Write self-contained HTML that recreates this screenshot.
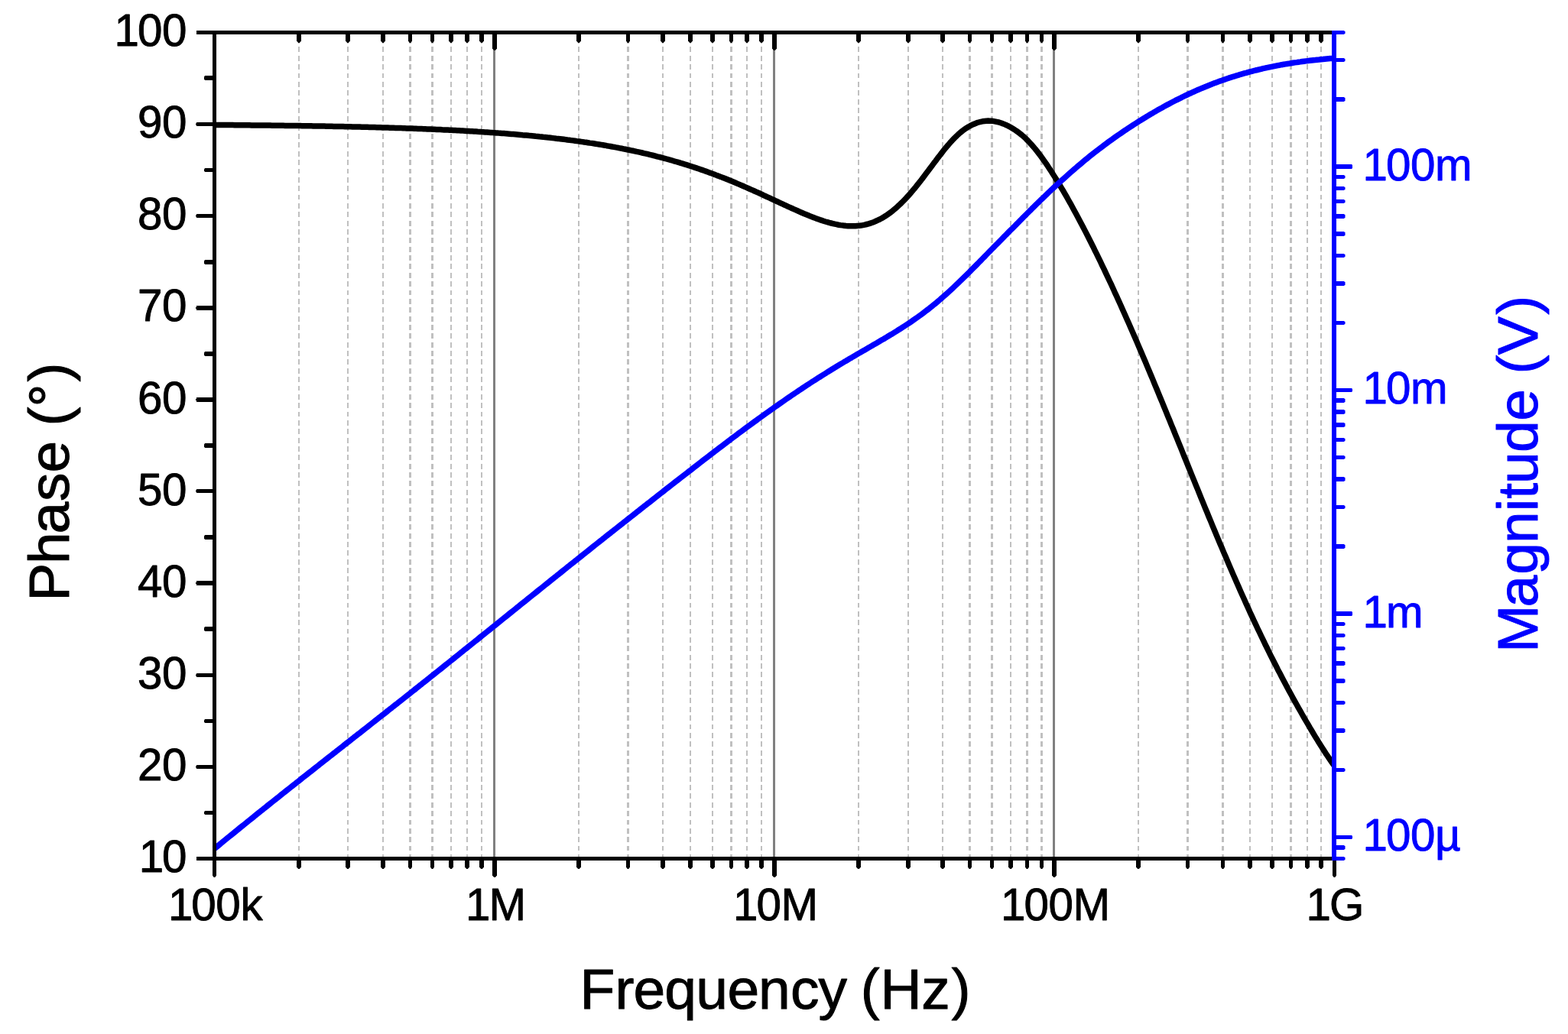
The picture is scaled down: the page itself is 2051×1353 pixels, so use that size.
<!DOCTYPE html>
<html lang="en">
<head>
<meta charset="utf-8">
<title>Phase and Magnitude vs Frequency</title>
<style>
html,body{margin:0;padding:0;background:#fff;}
body{width:2051px;height:1353px;overflow:hidden;}
svg{display:block;}
</style>
</head>
<body>
<svg width="2051" height="1353" viewBox="0 0 2051 1353" role="img" aria-label="Bode plot: phase and magnitude versus frequency">
<rect width="2051" height="1353" fill="#fff"/>
<g shape-rendering="crispEdges" fill="none">
<line x1="391.0" y1="50.1" x2="391.0" y2="1121" stroke="#c0c0c0" stroke-width="2" stroke-dasharray="6.9 4.46"/>
<line x1="455.0" y1="50.1" x2="455.0" y2="1121" stroke="#c0c0c0" stroke-width="2" stroke-dasharray="6.9 4.46"/>
<line x1="501.0" y1="50.1" x2="501.0" y2="1121" stroke="#c0c0c0" stroke-width="2" stroke-dasharray="6.9 4.46"/>
<line x1="536.5" y1="50.1" x2="536.5" y2="1121" stroke="#c0c0c0" stroke-width="3" stroke-dasharray="6.9 4.46"/>
<line x1="565.5" y1="50.1" x2="565.5" y2="1121" stroke="#c0c0c0" stroke-width="3" stroke-dasharray="6.9 4.46"/>
<line x1="590.0" y1="50.1" x2="590.0" y2="1121" stroke="#c0c0c0" stroke-width="2" stroke-dasharray="6.9 4.46"/>
<line x1="611.0" y1="50.1" x2="611.0" y2="1121" stroke="#c0c0c0" stroke-width="2" stroke-dasharray="6.9 4.46"/>
<line x1="630.0" y1="50.1" x2="630.0" y2="1121" stroke="#c0c0c0" stroke-width="2" stroke-dasharray="6.9 4.46"/>
<line x1="757.0" y1="50.1" x2="757.0" y2="1121" stroke="#c0c0c0" stroke-width="2" stroke-dasharray="6.9 4.46"/>
<line x1="821.5" y1="50.1" x2="821.5" y2="1121" stroke="#c0c0c0" stroke-width="3" stroke-dasharray="6.9 4.46"/>
<line x1="867.0" y1="50.1" x2="867.0" y2="1121" stroke="#c0c0c0" stroke-width="2" stroke-dasharray="6.9 4.46"/>
<line x1="903.0" y1="50.1" x2="903.0" y2="1121" stroke="#c0c0c0" stroke-width="2" stroke-dasharray="6.9 4.46"/>
<line x1="932.0" y1="50.1" x2="932.0" y2="1121" stroke="#c0c0c0" stroke-width="2" stroke-dasharray="6.9 4.46"/>
<line x1="956.5" y1="50.1" x2="956.5" y2="1121" stroke="#c0c0c0" stroke-width="3" stroke-dasharray="6.9 4.46"/>
<line x1="977.0" y1="50.1" x2="977.0" y2="1121" stroke="#c0c0c0" stroke-width="2" stroke-dasharray="6.9 4.46"/>
<line x1="996.0" y1="50.1" x2="996.0" y2="1121" stroke="#c0c0c0" stroke-width="2" stroke-dasharray="6.9 4.46"/>
<line x1="1123.0" y1="50.1" x2="1123.0" y2="1121" stroke="#c0c0c0" stroke-width="2" stroke-dasharray="6.9 4.46"/>
<line x1="1188.0" y1="50.1" x2="1188.0" y2="1121" stroke="#c0c0c0" stroke-width="2" stroke-dasharray="6.9 4.46"/>
<line x1="1233.0" y1="50.1" x2="1233.0" y2="1121" stroke="#c0c0c0" stroke-width="2" stroke-dasharray="6.9 4.46"/>
<line x1="1268.5" y1="50.1" x2="1268.5" y2="1121" stroke="#c0c0c0" stroke-width="3" stroke-dasharray="6.9 4.46"/>
<line x1="1297.5" y1="50.1" x2="1297.5" y2="1121" stroke="#c0c0c0" stroke-width="3" stroke-dasharray="6.9 4.46"/>
<line x1="1322.0" y1="50.1" x2="1322.0" y2="1121" stroke="#c0c0c0" stroke-width="2" stroke-dasharray="6.9 4.46"/>
<line x1="1343.5" y1="50.1" x2="1343.5" y2="1121" stroke="#c0c0c0" stroke-width="3" stroke-dasharray="6.9 4.46"/>
<line x1="1362.5" y1="50.1" x2="1362.5" y2="1121" stroke="#c0c0c0" stroke-width="3" stroke-dasharray="6.9 4.46"/>
<line x1="1489.0" y1="50.1" x2="1489.0" y2="1121" stroke="#c0c0c0" stroke-width="2" stroke-dasharray="6.9 4.46"/>
<line x1="1553.5" y1="50.1" x2="1553.5" y2="1121" stroke="#c0c0c0" stroke-width="3" stroke-dasharray="6.9 4.46"/>
<line x1="1599.5" y1="50.1" x2="1599.5" y2="1121" stroke="#c0c0c0" stroke-width="3" stroke-dasharray="6.9 4.46"/>
<line x1="1635.0" y1="50.1" x2="1635.0" y2="1121" stroke="#c0c0c0" stroke-width="2" stroke-dasharray="6.9 4.46"/>
<line x1="1664.0" y1="50.1" x2="1664.0" y2="1121" stroke="#c0c0c0" stroke-width="2" stroke-dasharray="6.9 4.46"/>
<line x1="1688.5" y1="50.1" x2="1688.5" y2="1121" stroke="#c0c0c0" stroke-width="3" stroke-dasharray="6.9 4.46"/>
<line x1="1710.0" y1="50.1" x2="1710.0" y2="1121" stroke="#c0c0c0" stroke-width="2" stroke-dasharray="6.9 4.46"/>
<line x1="1728.0" y1="50.1" x2="1728.0" y2="1121" stroke="#c0c0c0" stroke-width="2" stroke-dasharray="6.9 4.46"/>
<rect x="645" y="45" width="3" height="1076" fill="#808080"/>
<rect x="1011" y="45" width="3" height="1076" fill="#808080"/>
<rect x="1377" y="45" width="3" height="1076" fill="#808080"/>
</g>
<g fill="none" stroke-linejoin="round" stroke-linecap="butt">
<path d="M280.0,163.4 L282.4,163.5 L284.9,163.5 L287.3,163.5 L289.8,163.5 L292.2,163.5 L294.7,163.6 L297.1,163.6 L299.6,163.6 L302.0,163.6 L304.5,163.6 L306.9,163.7 L309.4,163.7 L311.8,163.7 L314.2,163.7 L316.7,163.7 L319.1,163.8 L321.6,163.8 L324.0,163.8 L326.5,163.8 L328.9,163.9 L331.4,163.9 L333.8,163.9 L336.2,163.9 L338.7,164.0 L341.1,164.0 L343.6,164.0 L346.0,164.0 L348.5,164.1 L350.9,164.1 L353.4,164.1 L355.8,164.2 L358.3,164.2 L360.7,164.2 L363.2,164.2 L365.6,164.3 L368.1,164.3 L370.5,164.3 L372.9,164.4 L375.4,164.4 L377.8,164.4 L380.3,164.4 L382.7,164.5 L385.2,164.5 L387.6,164.6 L390.1,164.6 L392.5,164.6 L394.9,164.7 L397.4,164.7 L399.8,164.7 L402.3,164.8 L404.7,164.8 L407.2,164.8 L409.6,164.9 L412.1,164.9 L414.5,165.0 L417.0,165.0 L419.4,165.1 L421.9,165.1 L424.3,165.1 L426.7,165.2 L429.2,165.2 L431.6,165.3 L434.1,165.3 L436.5,165.4 L439.0,165.4 L441.4,165.5 L443.9,165.5 L446.3,165.6 L448.8,165.6 L451.2,165.7 L453.6,165.7 L456.1,165.8 L458.5,165.8 L461.0,165.9 L463.4,165.9 L465.9,166.0 L468.3,166.0 L470.8,166.1 L473.2,166.2 L475.7,166.2 L478.1,166.3 L480.6,166.3 L483.0,166.4 L485.4,166.5 L487.9,166.5 L490.3,166.6 L492.8,166.7 L495.2,166.7 L497.7,166.8 L500.1,166.9 L502.6,166.9 L505.0,167.0 L507.4,167.1 L509.9,167.2 L512.4,167.2 L514.8,167.3 L517.2,167.4 L519.7,167.5 L522.1,167.5 L524.6,167.6 L527.0,167.7 L529.5,167.8 L531.9,167.9 L534.4,168.0 L536.8,168.1 L539.2,168.1 L541.7,168.2 L544.1,168.3 L546.6,168.4 L549.0,168.5 L551.5,168.6 L553.9,168.7 L556.4,168.8 L558.8,168.9 L561.3,169.0 L563.7,169.1 L566.1,169.2 L568.6,169.3 L571.0,169.4 L573.5,169.5 L575.9,169.6 L578.4,169.8 L580.8,169.9 L583.3,170.0 L585.7,170.1 L588.2,170.2 L590.6,170.3 L593.1,170.5 L595.5,170.6 L598.0,170.7 L600.4,170.8 L602.8,171.0 L605.3,171.1 L607.7,171.2 L610.2,171.4 L612.6,171.5 L615.1,171.7 L617.5,171.8 L620.0,172.0 L622.4,172.1 L624.9,172.3 L627.3,172.4 L629.7,172.6 L632.2,172.7 L634.6,172.9 L637.1,173.0 L639.5,173.2 L642.0,173.4 L644.4,173.6 L646.9,173.7 L649.3,173.9 L651.8,174.1 L654.2,174.2 L656.6,174.4 L659.1,174.6 L661.5,174.8 L664.0,175.0 L666.4,175.2 L668.9,175.4 L671.3,175.6 L673.8,175.8 L676.2,176.0 L678.7,176.2 L681.1,176.4 L683.5,176.7 L686.0,176.9 L688.4,177.1 L690.9,177.3 L693.3,177.6 L695.8,177.8 L698.2,178.0 L700.7,178.3 L703.1,178.5 L705.6,178.8 L708.0,179.0 L710.5,179.3 L712.9,179.5 L715.3,179.8 L717.8,180.1 L720.2,180.3 L722.7,180.6 L725.1,180.9 L727.6,181.2 L730.0,181.4 L732.5,181.7 L734.9,182.0 L737.4,182.3 L739.8,182.6 L742.2,183.0 L744.7,183.3 L747.1,183.6 L749.6,183.9 L752.0,184.2 L754.5,184.6 L756.9,184.9 L759.4,185.3 L761.8,185.6 L764.3,186.0 L766.7,186.3 L769.1,186.7 L771.6,187.1 L774.0,187.4 L776.5,187.8 L778.9,188.2 L781.4,188.6 L783.8,189.0 L786.3,189.4 L788.7,189.8 L791.2,190.2 L793.6,190.7 L796.0,191.1 L798.5,191.5 L800.9,192.0 L803.4,192.4 L805.8,192.9 L808.3,193.3 L810.7,193.8 L813.2,194.3 L815.6,194.8 L818.1,195.3 L820.5,195.8 L823.0,196.3 L825.4,196.8 L827.9,197.3 L830.3,197.8 L832.7,198.4 L835.2,198.9 L837.6,199.4 L840.1,200.0 L842.5,200.6 L845.0,201.1 L847.4,201.7 L849.9,202.3 L852.3,202.9 L854.8,203.5 L857.2,204.1 L859.6,204.8 L862.1,205.4 L864.5,206.0 L867.0,206.7 L869.4,207.3 L871.9,208.0 L874.3,208.7 L876.8,209.3 L879.2,210.0 L881.6,210.8 L884.1,211.5 L886.5,212.2 L889.0,212.9 L891.4,213.7 L893.9,214.4 L896.3,215.2 L898.8,215.9 L901.2,216.7 L903.7,217.5 L906.1,218.3 L908.6,219.1 L911.0,219.9 L913.5,220.7 L915.9,221.6 L918.3,222.4 L920.8,223.3 L923.2,224.1 L925.7,225.0 L928.1,225.9 L930.6,226.8 L933.0,227.7 L935.5,228.6 L937.9,229.6 L940.4,230.5 L942.8,231.4 L945.2,232.4 L947.7,233.3 L950.1,234.3 L952.6,235.3 L955.0,236.3 L957.5,237.3 L959.9,238.3 L962.4,239.3 L964.8,240.4 L967.2,241.4 L969.7,242.4 L972.1,243.5 L974.6,244.6 L977.0,245.6 L979.5,246.7 L981.9,247.8 L984.4,248.9 L986.8,250.0 L989.3,251.1 L991.7,252.2 L994.2,253.3 L996.6,254.4 L999.0,255.6 L1001.5,256.7 L1003.9,257.8 L1006.4,258.9 L1008.8,260.1 L1011.3,261.2 L1013.7,262.4 L1016.2,263.5 L1018.6,264.6 L1021.1,265.8 L1023.5,266.9 L1026.0,268.1 L1028.4,269.2 L1030.8,270.3 L1033.3,271.4 L1035.7,272.5 L1038.2,273.6 L1040.6,274.7 L1043.1,275.8 L1045.5,276.9 L1048.0,278.0 L1050.4,279.0 L1052.8,280.1 L1055.3,281.1 L1057.8,282.1 L1060.2,283.1 L1062.6,284.0 L1065.1,284.9 L1067.5,285.9 L1070.0,286.7 L1072.4,287.6 L1074.9,288.4 L1077.3,289.2 L1079.8,290.0 L1082.2,290.7 L1084.7,291.4 L1087.1,292.0 L1089.5,292.6 L1092.0,293.2 L1094.4,293.7 L1096.9,294.2 L1099.3,294.6 L1101.8,294.9 L1104.2,295.2 L1106.7,295.5 L1109.1,295.7 L1111.5,295.8 L1114.0,295.8 L1116.4,295.8 L1118.9,295.7 L1121.3,295.5 L1123.8,295.3 L1126.2,295.0 L1128.7,294.6 L1131.1,294.1 L1133.6,293.5 L1136.0,292.9 L1138.5,292.1 L1140.9,291.3 L1143.3,290.4 L1145.8,289.3 L1148.2,288.2 L1150.7,287.0 L1153.1,285.7 L1155.6,284.2 L1158.0,282.7 L1160.5,281.1 L1162.9,279.4 L1165.4,277.6 L1167.8,275.7 L1170.2,273.7 L1172.7,271.6 L1175.1,269.3 L1177.6,267.0 L1180.0,264.6 L1182.5,262.1 L1184.9,259.6 L1187.4,256.9 L1189.8,254.2 L1192.3,251.3 L1194.7,248.4 L1197.2,245.5 L1199.6,242.4 L1202.0,239.4 L1204.5,236.2 L1206.9,233.1 L1209.4,229.8 L1211.8,226.6 L1214.3,223.3 L1216.7,220.0 L1219.2,216.7 L1221.6,213.4 L1224.1,210.2 L1226.5,206.9 L1229.0,203.7 L1231.4,200.6 L1233.8,197.4 L1236.3,194.4 L1238.7,191.5 L1241.2,188.6 L1243.6,185.8 L1246.1,183.2 L1248.5,180.6 L1251.0,178.2 L1253.4,175.9 L1255.8,173.8 L1258.3,171.8 L1260.7,169.9 L1263.2,168.2 L1265.6,166.6 L1268.1,165.2 L1270.5,163.9 L1273.0,162.7 L1275.4,161.7 L1277.9,160.7 L1280.3,160.0 L1282.8,159.3 L1285.2,158.8 L1287.7,158.5 L1290.1,158.2 L1292.5,158.1 L1295.0,158.2 L1297.4,158.3 L1299.9,158.6 L1302.3,159.1 L1304.8,159.6 L1307.2,160.2 L1309.7,161.0 L1312.1,161.9 L1314.5,162.9 L1317.0,164.0 L1319.4,165.2 L1321.9,166.6 L1324.3,168.0 L1326.8,169.5 L1329.2,171.1 L1331.7,172.9 L1334.1,174.7 L1336.6,176.7 L1339.0,178.8 L1341.5,181.1 L1343.9,183.5 L1346.3,186.0 L1348.8,188.7 L1351.2,191.5 L1353.7,194.4 L1356.1,197.4 L1358.6,200.6 L1361.0,203.8 L1363.5,207.2 L1365.9,210.6 L1368.4,214.1 L1370.8,217.8 L1373.2,221.5 L1375.7,225.2 L1378.1,229.1 L1380.6,233.0 L1383.0,237.0 L1385.5,241.0 L1387.9,245.1 L1390.4,249.2 L1392.8,253.4 L1395.3,257.7 L1397.7,262.0 L1400.2,266.3 L1402.6,270.7 L1405.0,275.2 L1407.5,279.7 L1409.9,284.2 L1412.4,288.9 L1414.8,293.5 L1417.3,298.2 L1419.7,302.9 L1422.2,307.7 L1424.6,312.5 L1427.0,317.3 L1429.5,322.2 L1431.9,327.2 L1434.4,332.1 L1436.8,337.1 L1439.3,342.2 L1441.7,347.3 L1444.2,352.4 L1446.6,357.6 L1449.1,362.8 L1451.5,368.0 L1454.0,373.2 L1456.4,378.5 L1458.8,383.9 L1461.3,389.2 L1463.7,394.6 L1466.2,400.0 L1468.6,405.5 L1471.1,411.0 L1473.5,416.5 L1476.0,422.0 L1478.4,427.6 L1480.9,433.2 L1483.3,438.8 L1485.8,444.4 L1488.2,450.1 L1490.6,455.8 L1493.1,461.6 L1495.5,467.3 L1498.0,473.1 L1500.4,478.9 L1502.9,484.7 L1505.3,490.5 L1507.8,496.4 L1510.2,502.3 L1512.7,508.2 L1515.1,514.1 L1517.5,520.0 L1520.0,525.9 L1522.4,531.9 L1524.9,537.9 L1527.3,543.8 L1529.8,549.8 L1532.2,555.8 L1534.7,561.8 L1537.1,567.9 L1539.6,573.9 L1542.0,579.9 L1544.5,585.9 L1546.9,592.0 L1549.3,598.0 L1551.8,604.0 L1554.2,610.0 L1556.7,616.1 L1559.1,622.1 L1561.6,628.1 L1564.0,634.1 L1566.5,640.1 L1568.9,646.1 L1571.3,652.1 L1573.8,658.1 L1576.2,664.1 L1578.7,670.0 L1581.1,676.0 L1583.6,681.9 L1586.0,687.8 L1588.5,693.7 L1590.9,699.6 L1593.4,705.4 L1595.8,711.3 L1598.3,717.1 L1600.7,722.9 L1603.2,728.6 L1605.6,734.3 L1608.0,740.0 L1610.5,745.7 L1612.9,751.4 L1615.4,757.0 L1617.8,762.6 L1620.3,768.1 L1622.7,773.7 L1625.2,779.2 L1627.6,784.6 L1630.0,790.0 L1632.5,795.4 L1634.9,800.8 L1637.4,806.1 L1639.8,811.4 L1642.3,816.6 L1644.7,821.8 L1647.2,826.9 L1649.6,832.0 L1652.1,837.1 L1654.5,842.2 L1657.0,847.2 L1659.4,852.1 L1661.8,857.1 L1664.3,862.0 L1666.7,866.8 L1669.2,871.6 L1671.6,876.4 L1674.1,881.1 L1676.5,885.8 L1679.0,890.5 L1681.4,895.1 L1683.9,899.7 L1686.3,904.2 L1688.8,908.7 L1691.2,913.2 L1693.6,917.6 L1696.1,922.0 L1698.5,926.4 L1701.0,930.7 L1703.4,935.0 L1705.9,939.3 L1708.3,943.5 L1710.8,947.7 L1713.2,951.9 L1715.7,956.0 L1718.1,960.1 L1720.5,964.1 L1723.0,968.1 L1725.4,972.1 L1727.9,976.0 L1730.3,979.8 L1732.8,983.6 L1735.2,987.4 L1737.7,991.0 L1740.1,994.6 L1742.5,998.1 L1745.0,1001.6" stroke="#000" stroke-width="7.5"/>
<path d="M280.0,1110.9 L282.4,1109.0 L284.9,1107.0 L287.3,1105.0 L289.8,1102.9 L292.2,1100.9 L294.7,1098.9 L297.1,1096.9 L299.6,1094.9 L302.0,1093.0 L304.5,1091.0 L306.9,1089.0 L309.4,1087.0 L311.8,1085.0 L314.2,1083.0 L316.7,1081.0 L319.1,1079.1 L321.6,1077.1 L324.0,1075.1 L326.5,1073.1 L328.9,1071.2 L331.4,1069.2 L333.8,1067.2 L336.2,1065.3 L338.7,1063.3 L341.1,1061.3 L343.6,1059.4 L346.0,1057.4 L348.5,1055.5 L350.9,1053.5 L353.4,1051.5 L355.8,1049.6 L358.3,1047.6 L360.7,1045.7 L363.2,1043.8 L365.6,1041.8 L368.1,1039.8 L370.5,1037.9 L372.9,1036.0 L375.4,1034.0 L377.8,1032.1 L380.3,1030.1 L382.7,1028.2 L385.2,1026.3 L387.6,1024.3 L390.1,1022.4 L392.5,1020.5 L394.9,1018.5 L397.4,1016.6 L399.8,1014.7 L402.3,1012.7 L404.7,1010.8 L407.2,1008.9 L409.6,1007.0 L412.1,1005.0 L414.5,1003.1 L417.0,1001.2 L419.4,999.2 L421.9,997.3 L424.3,995.4 L426.7,993.5 L429.2,991.5 L431.6,989.6 L434.1,987.7 L436.5,985.8 L439.0,983.9 L441.4,981.9 L443.9,980.0 L446.3,978.1 L448.8,976.2 L451.2,974.2 L453.6,972.3 L456.1,970.4 L458.5,968.5 L461.0,966.6 L463.4,964.6 L465.9,962.7 L468.3,960.8 L470.8,958.9 L473.2,957.0 L475.7,955.0 L478.1,953.1 L480.6,951.2 L483.0,949.3 L485.4,947.4 L487.9,945.4 L490.3,943.5 L492.8,941.6 L495.2,939.6 L497.7,937.7 L500.1,935.8 L502.6,933.9 L505.0,932.0 L507.4,930.0 L509.9,928.1 L512.4,926.2 L514.8,924.2 L517.2,922.3 L519.7,920.4 L522.1,918.4 L524.6,916.5 L527.0,914.6 L529.5,912.6 L531.9,910.7 L534.4,908.8 L536.8,906.8 L539.2,904.9 L541.7,903.0 L544.1,901.0 L546.6,899.1 L549.0,897.1 L551.5,895.2 L553.9,893.2 L556.4,891.3 L558.8,889.3 L561.3,887.4 L563.7,885.4 L566.1,883.5 L568.6,881.5 L571.0,879.6 L573.5,877.6 L575.9,875.7 L578.4,873.7 L580.8,871.8 L583.3,869.8 L585.7,867.9 L588.2,865.9 L590.6,863.9 L593.1,862.0 L595.5,860.0 L598.0,858.1 L600.4,856.1 L602.8,854.1 L605.3,852.2 L607.7,850.2 L610.2,848.2 L612.6,846.3 L615.1,844.3 L617.5,842.4 L620.0,840.4 L622.4,838.4 L624.9,836.5 L627.3,834.5 L629.7,832.5 L632.2,830.6 L634.6,828.6 L637.1,826.6 L639.5,824.7 L642.0,822.7 L644.4,820.7 L646.9,818.8 L649.3,816.8 L651.8,814.8 L654.2,812.9 L656.6,810.9 L659.1,808.9 L661.5,807.0 L664.0,805.0 L666.4,803.0 L668.9,801.0 L671.3,799.1 L673.8,797.1 L676.2,795.1 L678.7,793.2 L681.1,791.2 L683.5,789.2 L686.0,787.3 L688.4,785.3 L690.9,783.3 L693.3,781.4 L695.8,779.4 L698.2,777.4 L700.7,775.5 L703.1,773.5 L705.6,771.5 L708.0,769.6 L710.5,767.6 L712.9,765.6 L715.3,763.7 L717.8,761.7 L720.2,759.8 L722.7,757.8 L725.1,755.8 L727.6,753.9 L730.0,751.9 L732.5,750.0 L734.9,748.0 L737.4,746.0 L739.8,744.1 L742.2,742.1 L744.7,740.2 L747.1,738.2 L749.6,736.3 L752.0,734.3 L754.5,732.4 L756.9,730.4 L759.4,728.5 L761.8,726.5 L764.3,724.6 L766.7,722.6 L769.1,720.7 L771.6,718.7 L774.0,716.8 L776.5,714.8 L778.9,712.9 L781.4,710.9 L783.8,709.0 L786.3,707.1 L788.7,705.1 L791.2,703.2 L793.6,701.2 L796.0,699.3 L798.5,697.4 L800.9,695.4 L803.4,693.5 L805.8,691.6 L808.3,689.6 L810.7,687.7 L813.2,685.8 L815.6,683.8 L818.1,681.9 L820.5,680.0 L823.0,678.0 L825.4,676.1 L827.9,674.2 L830.3,672.3 L832.7,670.3 L835.2,668.4 L837.6,666.5 L840.1,664.6 L842.5,662.6 L845.0,660.7 L847.4,658.8 L849.9,656.9 L852.3,655.0 L854.8,653.0 L857.2,651.1 L859.6,649.2 L862.1,647.3 L864.5,645.4 L867.0,643.5 L869.4,641.5 L871.9,639.6 L874.3,637.7 L876.8,635.8 L879.2,633.9 L881.6,632.0 L884.1,630.1 L886.5,628.2 L889.0,626.3 L891.4,624.4 L893.9,622.5 L896.3,620.6 L898.8,618.7 L901.2,616.8 L903.7,614.9 L906.1,613.0 L908.6,611.1 L911.0,609.2 L913.5,607.3 L915.9,605.4 L918.3,603.5 L920.8,601.6 L923.2,599.7 L925.7,597.9 L928.1,596.0 L930.6,594.1 L933.0,592.2 L935.5,590.3 L937.9,588.5 L940.4,586.6 L942.8,584.7 L945.2,582.9 L947.7,581.0 L950.1,579.2 L952.6,577.3 L955.0,575.5 L957.5,573.6 L959.9,571.8 L962.4,570.0 L964.8,568.1 L967.2,566.3 L969.7,564.5 L972.1,562.7 L974.6,560.8 L977.0,559.0 L979.5,557.2 L981.9,555.4 L984.4,553.6 L986.8,551.9 L989.3,550.1 L991.7,548.3 L994.2,546.5 L996.6,544.8 L999.0,543.0 L1001.5,541.2 L1003.9,539.5 L1006.4,537.8 L1008.8,536.0 L1011.3,534.3 L1013.7,532.5 L1016.2,530.8 L1018.6,529.1 L1021.1,527.4 L1023.5,525.7 L1026.0,524.0 L1028.4,522.3 L1030.8,520.6 L1033.3,519.0 L1035.7,517.3 L1038.2,515.6 L1040.6,514.0 L1043.1,512.3 L1045.5,510.7 L1048.0,509.1 L1050.4,507.4 L1052.8,505.8 L1055.3,504.2 L1057.8,502.6 L1060.2,501.0 L1062.6,499.4 L1065.1,497.9 L1067.5,496.3 L1070.0,494.7 L1072.4,493.2 L1074.9,491.6 L1077.3,490.1 L1079.8,488.6 L1082.2,487.0 L1084.7,485.5 L1087.1,484.0 L1089.5,482.5 L1092.0,481.0 L1094.4,479.5 L1096.9,478.0 L1099.3,476.6 L1101.8,475.1 L1104.2,473.6 L1106.7,472.2 L1109.1,470.7 L1111.5,469.3 L1114.0,467.9 L1116.4,466.4 L1118.9,465.0 L1121.3,463.6 L1123.8,462.1 L1126.2,460.7 L1128.7,459.3 L1131.1,457.9 L1133.6,456.5 L1136.0,455.1 L1138.5,453.6 L1140.9,452.2 L1143.3,450.8 L1145.8,449.4 L1148.2,448.0 L1150.7,446.5 L1153.1,445.1 L1155.6,443.7 L1158.0,442.2 L1160.5,440.8 L1162.9,439.3 L1165.4,437.8 L1167.8,436.4 L1170.2,434.9 L1172.7,433.3 L1175.1,431.8 L1177.6,430.3 L1180.0,428.7 L1182.5,427.1 L1184.9,425.5 L1187.4,423.9 L1189.8,422.3 L1192.3,420.6 L1194.7,418.9 L1197.2,417.2 L1199.6,415.5 L1202.0,413.8 L1204.5,412.0 L1206.9,410.2 L1209.4,408.3 L1211.8,406.4 L1214.3,404.6 L1216.7,402.6 L1219.2,400.7 L1221.6,398.7 L1224.1,396.7 L1226.5,394.6 L1229.0,392.5 L1231.4,390.4 L1233.8,388.3 L1236.3,386.1 L1238.7,383.9 L1241.2,381.7 L1243.6,379.5 L1246.1,377.2 L1248.5,374.9 L1251.0,372.6 L1253.4,370.3 L1255.8,367.9 L1258.3,365.5 L1260.7,363.1 L1263.2,360.7 L1265.6,358.3 L1268.1,355.9 L1270.5,353.4 L1273.0,350.9 L1275.4,348.5 L1277.9,346.0 L1280.3,343.5 L1282.8,341.0 L1285.2,338.5 L1287.7,336.0 L1290.1,333.5 L1292.5,331.0 L1295.0,328.5 L1297.4,326.0 L1299.9,323.5 L1302.3,321.0 L1304.8,318.6 L1307.2,316.1 L1309.7,313.6 L1312.1,311.1 L1314.5,308.6 L1317.0,306.2 L1319.4,303.7 L1321.9,301.2 L1324.3,298.8 L1326.8,296.3 L1329.2,293.8 L1331.7,291.3 L1334.1,288.9 L1336.6,286.4 L1339.0,283.9 L1341.5,281.5 L1343.9,279.0 L1346.3,276.6 L1348.8,274.2 L1351.2,271.7 L1353.7,269.3 L1356.1,266.9 L1358.6,264.5 L1361.0,262.1 L1363.5,259.8 L1365.9,257.4 L1368.4,255.1 L1370.8,252.7 L1373.2,250.4 L1375.7,248.1 L1378.1,245.8 L1380.6,243.5 L1383.0,241.3 L1385.5,239.0 L1387.9,236.8 L1390.4,234.6 L1392.8,232.4 L1395.3,230.2 L1397.7,228.0 L1400.2,225.8 L1402.6,223.7 L1405.0,221.6 L1407.5,219.5 L1409.9,217.4 L1412.4,215.3 L1414.8,213.3 L1417.3,211.2 L1419.7,209.2 L1422.2,207.2 L1424.6,205.2 L1427.0,203.2 L1429.5,201.3 L1431.9,199.4 L1434.4,197.5 L1436.8,195.6 L1439.3,193.7 L1441.7,191.9 L1444.2,190.0 L1446.6,188.2 L1449.1,186.4 L1451.5,184.6 L1454.0,182.9 L1456.4,181.1 L1458.8,179.4 L1461.3,177.7 L1463.7,176.0 L1466.2,174.3 L1468.6,172.6 L1471.1,170.9 L1473.5,169.3 L1476.0,167.7 L1478.4,166.1 L1480.9,164.5 L1483.3,162.9 L1485.8,161.3 L1488.2,159.8 L1490.6,158.2 L1493.1,156.7 L1495.5,155.2 L1498.0,153.7 L1500.4,152.2 L1502.9,150.8 L1505.3,149.3 L1507.8,147.9 L1510.2,146.4 L1512.7,145.0 L1515.1,143.6 L1517.5,142.3 L1520.0,140.9 L1522.4,139.5 L1524.9,138.2 L1527.3,136.9 L1529.8,135.6 L1532.2,134.3 L1534.7,133.0 L1537.1,131.7 L1539.6,130.5 L1542.0,129.3 L1544.5,128.1 L1546.9,126.8 L1549.3,125.7 L1551.8,124.5 L1554.2,123.3 L1556.7,122.2 L1559.1,121.1 L1561.6,120.0 L1564.0,118.9 L1566.5,117.8 L1568.9,116.8 L1571.3,115.7 L1573.8,114.7 L1576.2,113.7 L1578.7,112.7 L1581.1,111.7 L1583.6,110.7 L1586.0,109.8 L1588.5,108.8 L1590.9,107.9 L1593.4,107.0 L1595.8,106.1 L1598.3,105.3 L1600.7,104.4 L1603.2,103.6 L1605.6,102.7 L1608.0,101.9 L1610.5,101.1 L1612.9,100.3 L1615.4,99.6 L1617.8,98.8 L1620.3,98.1 L1622.7,97.3 L1625.2,96.6 L1627.6,95.9 L1630.0,95.3 L1632.5,94.6 L1634.9,93.9 L1637.4,93.3 L1639.8,92.7 L1642.3,92.0 L1644.7,91.5 L1647.2,90.9 L1649.6,90.3 L1652.1,89.7 L1654.5,89.2 L1657.0,88.6 L1659.4,88.1 L1661.8,87.6 L1664.3,87.1 L1666.7,86.6 L1669.2,86.1 L1671.6,85.6 L1674.1,85.2 L1676.5,84.7 L1679.0,84.3 L1681.4,83.9 L1683.9,83.5 L1686.3,83.1 L1688.8,82.7 L1691.2,82.3 L1693.6,81.9 L1696.1,81.6 L1698.5,81.2 L1701.0,80.9 L1703.4,80.5 L1705.9,80.2 L1708.3,79.9 L1710.8,79.6 L1713.2,79.3 L1715.7,79.0 L1718.1,78.7 L1720.5,78.5 L1723.0,78.2 L1725.4,78.0 L1727.9,77.7 L1730.3,77.5 L1732.8,77.2 L1735.2,77.0 L1737.7,76.8 L1740.1,76.6 L1742.5,76.4 L1745.0,76.2" stroke="#00f" stroke-width="7.5"/>
</g>
<g fill="#000">
<rect x="278" y="40" width="5" height="1086"/>
<rect x="257" y="40" width="1487" height="5"/>
<rect x="257" y="1121" width="1487" height="5"/>
<path d="M279,1061V1066H268.2L267,1064.8V1062.2L268.2,1061Z"/>
<rect x="257" y="1001" width="22" height="5"/>
<rect x="256" y="1002.5" width="2" height="2"/>
<path d="M279,941V946H268.2L267,944.8V942.2L268.2,941Z"/>
<rect x="257" y="881" width="22" height="5"/>
<rect x="256" y="882.5" width="2" height="2"/>
<path d="M279,820V826H268.2L267,824.8V821.2L268.2,820Z"/>
<rect x="257" y="760" width="22" height="6"/>
<rect x="256" y="762.0" width="2" height="2"/>
<path d="M279,700V706H268.2L267,704.8V701.2L268.2,700Z"/>
<rect x="257" y="640" width="22" height="5"/>
<rect x="256" y="641.5" width="2" height="2"/>
<path d="M279,580V586H268.2L267,584.8V581.2L268.2,580Z"/>
<rect x="257" y="520" width="22" height="6"/>
<rect x="256" y="522.0" width="2" height="2"/>
<path d="M279,460V466H268.2L267,464.8V461.2L268.2,460Z"/>
<rect x="257" y="400" width="22" height="6"/>
<rect x="256" y="402.0" width="2" height="2"/>
<path d="M279,340V346H268.2L267,344.8V341.2L268.2,340Z"/>
<rect x="257" y="280" width="22" height="5"/>
<rect x="256" y="281.5" width="2" height="2"/>
<path d="M279,220V225H268.2L267,223.8V221.2L268.2,220Z"/>
<rect x="257" y="160" width="22" height="5"/>
<rect x="256" y="161.5" width="2" height="2"/>
<path d="M279,99V105H268.2L267,103.8V100.2L268.2,99Z"/>
<path d="M278,1125H283V1145.5L281.3,1148H279.7L278,1145.5Z"/>
<path d="M1743,1125H1748V1145.5L1746.3,1148H1744.7L1743,1145.5Z"/>
<path d="M644,44H650V63.5L647.8,66H646.2L644,63.5Z"/>
<path d="M644,1125H650V1145.5L647.8,1148H646.2L644,1145.5Z"/>
<path d="M1010,44H1016V63.5L1013.8,66H1012.2L1010,63.5Z"/>
<path d="M1010,1125H1016V1145.5L1013.8,1148H1012.2L1010,1145.5Z"/>
<path d="M1376,44H1382V63.5L1379.8,66H1378.2L1376,63.5Z"/>
<path d="M1376,1125H1382V1145.5L1379.8,1148H1378.2L1376,1145.5Z"/>
<path d="M388.0,44H394.0V53.5L391.8,56H390.2L388.0,53.5Z"/>
<path d="M388.0,1125H394.0V1134.5L391.8,1137H390.2L388.0,1134.5Z"/>
<path d="M452.0,44H458.0V53.5L455.8,56H454.2L452.0,53.5Z"/>
<path d="M452.0,1125H458.0V1134.5L455.8,1137H454.2L452.0,1134.5Z"/>
<path d="M498.0,44H504.0V53.5L501.8,56H500.2L498.0,53.5Z"/>
<path d="M498.0,1125H504.0V1134.5L501.8,1137H500.2L498.0,1134.5Z"/>
<path d="M534.0,44H539.0V53.5L537.3,56H535.7L534.0,53.5Z"/>
<path d="M534.0,1125H539.0V1134.5L537.3,1137H535.7L534.0,1134.5Z"/>
<path d="M563.0,44H568.0V53.5L566.3,56H564.7L563.0,53.5Z"/>
<path d="M563.0,1125H568.0V1134.5L566.3,1137H564.7L563.0,1134.5Z"/>
<path d="M587.0,44H593.0V53.5L590.8,56H589.2L587.0,53.5Z"/>
<path d="M587.0,1125H593.0V1134.5L590.8,1137H589.2L587.0,1134.5Z"/>
<path d="M608.0,44H614.0V53.5L611.8,56H610.2L608.0,53.5Z"/>
<path d="M608.0,1125H614.0V1134.5L611.8,1137H610.2L608.0,1134.5Z"/>
<path d="M627.0,44H633.0V53.5L630.8,56H629.2L627.0,53.5Z"/>
<path d="M627.0,1125H633.0V1134.5L630.8,1137H629.2L627.0,1134.5Z"/>
<path d="M754.0,44H760.0V53.5L757.8,56H756.2L754.0,53.5Z"/>
<path d="M754.0,1125H760.0V1134.5L757.8,1137H756.2L754.0,1134.5Z"/>
<path d="M819.0,44H824.0V53.5L822.3,56H820.7L819.0,53.5Z"/>
<path d="M819.0,1125H824.0V1134.5L822.3,1137H820.7L819.0,1134.5Z"/>
<path d="M864.0,44H870.0V53.5L867.8,56H866.2L864.0,53.5Z"/>
<path d="M864.0,1125H870.0V1134.5L867.8,1137H866.2L864.0,1134.5Z"/>
<path d="M900.0,44H906.0V53.5L903.8,56H902.2L900.0,53.5Z"/>
<path d="M900.0,1125H906.0V1134.5L903.8,1137H902.2L900.0,1134.5Z"/>
<path d="M929.0,44H935.0V53.5L932.8,56H931.2L929.0,53.5Z"/>
<path d="M929.0,1125H935.0V1134.5L932.8,1137H931.2L929.0,1134.5Z"/>
<path d="M954.0,44H959.0V53.5L957.3,56H955.7L954.0,53.5Z"/>
<path d="M954.0,1125H959.0V1134.5L957.3,1137H955.7L954.0,1134.5Z"/>
<path d="M974.0,44H980.0V53.5L977.8,56H976.2L974.0,53.5Z"/>
<path d="M974.0,1125H980.0V1134.5L977.8,1137H976.2L974.0,1134.5Z"/>
<path d="M993.0,44H999.0V53.5L996.8,56H995.2L993.0,53.5Z"/>
<path d="M993.0,1125H999.0V1134.5L996.8,1137H995.2L993.0,1134.5Z"/>
<path d="M1120.0,44H1126.0V53.5L1123.8,56H1122.2L1120.0,53.5Z"/>
<path d="M1120.0,1125H1126.0V1134.5L1123.8,1137H1122.2L1120.0,1134.5Z"/>
<path d="M1185.0,44H1191.0V53.5L1188.8,56H1187.2L1185.0,53.5Z"/>
<path d="M1185.0,1125H1191.0V1134.5L1188.8,1137H1187.2L1185.0,1134.5Z"/>
<path d="M1230.0,44H1236.0V53.5L1233.8,56H1232.2L1230.0,53.5Z"/>
<path d="M1230.0,1125H1236.0V1134.5L1233.8,1137H1232.2L1230.0,1134.5Z"/>
<path d="M1266.0,44H1271.0V53.5L1269.3,56H1267.7L1266.0,53.5Z"/>
<path d="M1266.0,1125H1271.0V1134.5L1269.3,1137H1267.7L1266.0,1134.5Z"/>
<path d="M1295.0,44H1300.0V53.5L1298.3,56H1296.7L1295.0,53.5Z"/>
<path d="M1295.0,1125H1300.0V1134.5L1298.3,1137H1296.7L1295.0,1134.5Z"/>
<path d="M1319.0,44H1325.0V53.5L1322.8,56H1321.2L1319.0,53.5Z"/>
<path d="M1319.0,1125H1325.0V1134.5L1322.8,1137H1321.2L1319.0,1134.5Z"/>
<path d="M1341.0,44H1346.0V53.5L1344.3,56H1342.7L1341.0,53.5Z"/>
<path d="M1341.0,1125H1346.0V1134.5L1344.3,1137H1342.7L1341.0,1134.5Z"/>
<path d="M1360.0,44H1365.0V53.5L1363.3,56H1361.7L1360.0,53.5Z"/>
<path d="M1360.0,1125H1365.0V1134.5L1363.3,1137H1361.7L1360.0,1134.5Z"/>
<path d="M1486.0,44H1492.0V53.5L1489.8,56H1488.2L1486.0,53.5Z"/>
<path d="M1486.0,1125H1492.0V1134.5L1489.8,1137H1488.2L1486.0,1134.5Z"/>
<path d="M1551.0,44H1556.0V53.5L1554.3,56H1552.7L1551.0,53.5Z"/>
<path d="M1551.0,1125H1556.0V1134.5L1554.3,1137H1552.7L1551.0,1134.5Z"/>
<path d="M1597.0,44H1602.0V53.5L1600.3,56H1598.7L1597.0,53.5Z"/>
<path d="M1597.0,1125H1602.0V1134.5L1600.3,1137H1598.7L1597.0,1134.5Z"/>
<path d="M1632.0,44H1638.0V53.5L1635.8,56H1634.2L1632.0,53.5Z"/>
<path d="M1632.0,1125H1638.0V1134.5L1635.8,1137H1634.2L1632.0,1134.5Z"/>
<path d="M1661.0,44H1667.0V53.5L1664.8,56H1663.2L1661.0,53.5Z"/>
<path d="M1661.0,1125H1667.0V1134.5L1664.8,1137H1663.2L1661.0,1134.5Z"/>
<path d="M1686.0,44H1691.0V53.5L1689.3,56H1687.7L1686.0,53.5Z"/>
<path d="M1686.0,1125H1691.0V1134.5L1689.3,1137H1687.7L1686.0,1134.5Z"/>
<path d="M1707.0,44H1713.0V53.5L1710.8,56H1709.2L1707.0,53.5Z"/>
<path d="M1707.0,1125H1713.0V1134.5L1710.8,1137H1709.2L1707.0,1134.5Z"/>
<path d="M1725.0,44H1731.0V53.5L1728.8,56H1727.2L1725.0,53.5Z"/>
<path d="M1725.0,1125H1731.0V1134.5L1728.8,1137H1727.2L1725.0,1134.5Z"/>
</g>
<g fill="#00f">
<rect x="1742" y="40" width="6" height="1086"/>
<path d="M1747,1121V1126H1758.0L1759.5,1124.5V1122.5L1758.0,1121Z"/>
<path d="M1747,1106V1112H1758.0L1759.5,1110.5V1107.5L1758.0,1106Z"/>
<path d="M1747,1093V1098H1768.0L1769,1097.0V1094.0L1768.0,1093Z"/>
<path d="M1747,1005V1010H1758.0L1759.5,1008.5V1006.5L1758.0,1005Z"/>
<path d="M1747,953V959H1758.0L1759.5,957.5V954.5L1758.0,953Z"/>
<path d="M1747,917V922H1758.0L1759.5,920.5V918.5L1758.0,917Z"/>
<path d="M1747,888V894H1758.0L1759.5,892.5V889.5L1758.0,888Z"/>
<path d="M1747,865V871H1758.0L1759.5,869.5V866.5L1758.0,865Z"/>
<path d="M1747,846V851H1758.0L1759.5,849.5V847.5L1758.0,846Z"/>
<path d="M1747,829V834H1758.0L1759.5,832.5V830.5L1758.0,829Z"/>
<path d="M1747,814V819H1758.0L1759.5,817.5V815.5L1758.0,814Z"/>
<path d="M1747,800V806H1768.0L1769,805.0V801.0L1768.0,800Z"/>
<path d="M1747,712V718H1758.0L1759.5,716.5V713.5L1758.0,712Z"/>
<path d="M1747,661V666H1758.0L1759.5,664.5V662.5L1758.0,661Z"/>
<path d="M1747,624V630H1758.0L1759.5,628.5V625.5L1758.0,624Z"/>
<path d="M1747,596V601H1758.0L1759.5,599.5V597.5L1758.0,596Z"/>
<path d="M1747,573V578H1758.0L1759.5,576.5V574.5L1758.0,573Z"/>
<path d="M1747,553V559H1758.0L1759.5,557.5V554.5L1758.0,553Z"/>
<path d="M1747,536V542H1758.0L1759.5,540.5V537.5L1758.0,536Z"/>
<path d="M1747,521V527H1758.0L1759.5,525.5V522.5L1758.0,521Z"/>
<path d="M1747,508V513H1768.0L1769,512.0V509.0L1768.0,508Z"/>
<path d="M1747,420V425H1758.0L1759.5,423.5V421.5L1758.0,420Z"/>
<path d="M1747,368V374H1758.0L1759.5,372.5V369.5L1758.0,368Z"/>
<path d="M1747,332V337H1758.0L1759.5,335.5V333.5L1758.0,332Z"/>
<path d="M1747,303V309H1758.0L1759.5,307.5V304.5L1758.0,303Z"/>
<path d="M1747,280V286H1758.0L1759.5,284.5V281.5L1758.0,280Z"/>
<path d="M1747,261V266H1758.0L1759.5,264.5V262.5L1758.0,261Z"/>
<path d="M1747,244V249H1758.0L1759.5,247.5V245.5L1758.0,244Z"/>
<path d="M1747,229V234H1758.0L1759.5,232.5V230.5L1758.0,229Z"/>
<path d="M1747,215V221H1768.0L1769,220.0V216.0L1768.0,215Z"/>
<path d="M1747,127V133H1758.0L1759.5,131.5V128.5L1758.0,127Z"/>
<path d="M1747,76V81H1758.0L1759.5,79.5V77.5L1758.0,76Z"/>
<path d="M1747,40V45H1758.0L1759.5,43.5V41.5L1758.0,40Z"/>
</g>
<g font-family="'Liberation Sans', sans-serif" font-size="58.33px" letter-spacing="-0.4" stroke-width="0.9" stroke-linejoin="round">
<text transform="translate(242.50,1141.10) scale(1,1.015)" text-anchor="end" dx="1.6 -1.6" fill="#000" stroke="#000">10</text>
<text transform="translate(244.10,1020.99) scale(1,1.015)" text-anchor="end" fill="#000" stroke="#000">20</text>
<text transform="translate(244.10,900.88) scale(1,1.015)" text-anchor="end" fill="#000" stroke="#000">30</text>
<text transform="translate(244.10,780.77) scale(1,1.015)" text-anchor="end" fill="#000" stroke="#000">40</text>
<text transform="translate(244.10,660.66) scale(1,1.015)" text-anchor="end" fill="#000" stroke="#000">50</text>
<text transform="translate(244.10,540.54) scale(1,1.015)" text-anchor="end" fill="#000" stroke="#000">60</text>
<text transform="translate(244.10,420.43) scale(1,1.015)" text-anchor="end" fill="#000" stroke="#000">70</text>
<text transform="translate(244.10,300.32) scale(1,1.015)" text-anchor="end" fill="#000" stroke="#000">80</text>
<text transform="translate(244.10,180.21) scale(1,1.015)" text-anchor="end" fill="#000" stroke="#000">90</text>
<text transform="translate(242.50,60.10) scale(1,1.015)" text-anchor="end" dx="1.6 -1.6" fill="#000" stroke="#000">100</text>
<text transform="translate(279.90,1204.40) scale(1,1.015)" text-anchor="middle" dx="1.6 -1.6" fill="#000" stroke="#000">100k</text>
<text transform="translate(646.70,1204.40) scale(1,1.015)" text-anchor="middle" dx="1.6 -1.6" fill="#000" stroke="#000">1M</text>
<text transform="translate(1012.70,1204.40) scale(1,1.015)" text-anchor="middle" dx="1.6 -1.6" fill="#000" stroke="#000">10M</text>
<text transform="translate(1378.70,1204.40) scale(1,1.015)" text-anchor="middle" dx="1.6 -1.6" fill="#000" stroke="#000">100M</text>
<text transform="translate(1744.70,1204.40) scale(1,1.015)" text-anchor="middle" dx="1.6 -1.6" fill="#000" stroke="#000">1G</text>
<text transform="translate(1780.90,1113.20) scale(1,1.015)" text-anchor="start" dx="1.6 -1.6" fill="#00f" stroke="#00f">100µ</text>
<text transform="translate(1780.90,820.65) scale(1,1.015)" text-anchor="start" dx="1.6 -1.6" fill="#00f" stroke="#00f">1m</text>
<text transform="translate(1780.90,528.10) scale(1,1.015)" text-anchor="start" dx="1.6 -1.6" fill="#00f" stroke="#00f">10m</text>
<text transform="translate(1780.90,235.55) scale(1,1.015)" text-anchor="start" dx="1.6 -1.6" fill="#00f" stroke="#00f">100m</text>
</g>
<g font-family="'Liberation Sans', sans-serif" font-size="75px" stroke-width="1.0" stroke-linejoin="round">
<text x="758.5 804.6 828.4 869.2 910.2 951.4 991.9 1033.9 1070.4 1107.9 1125.8 1151.5 1205.2 1244.5" y="1320" fill="#000" stroke="#000">Frequency (Hz)</text>
<text transform="translate(89.5,0) rotate(-90)" x="-786.7 -738.0 -698.4 -656.0 -618.6 -576.9 -557.5 -532.4 -499.4" y="0" fill="#000" stroke="#000">Phase (°)</text>
<text transform="translate(2010.5,0) rotate(-90)" x="-853.9 -794.5 -751.8 -710.9 -669.3 -652.7 -632.9 -592.1 -550.7 -509.0 -489.5 -464.3 -411.8" y="0" fill="#00f" stroke="#00f">Magnitude (V)</text>
</g>
</svg>
</body>
</html>
